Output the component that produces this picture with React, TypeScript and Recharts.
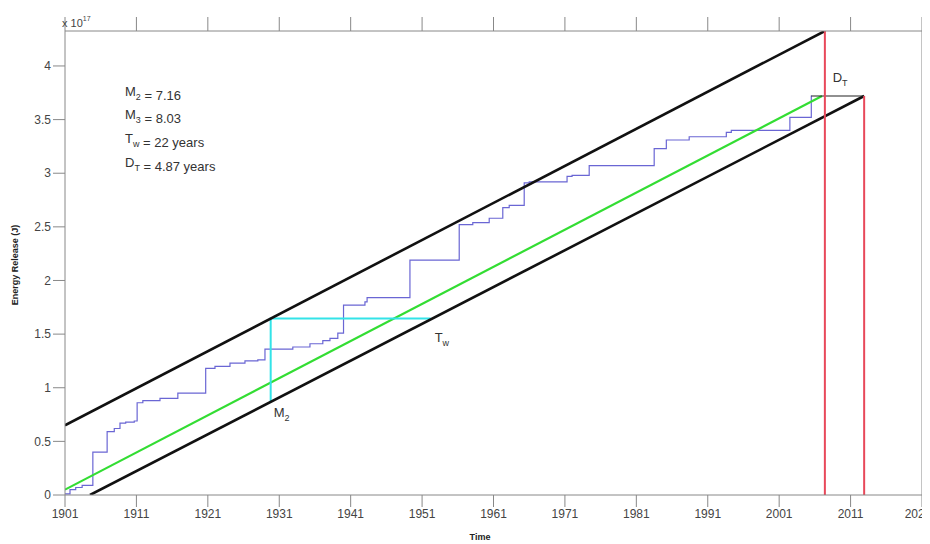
import { ComposedChart, Line, XAxis, YAxis, ReferenceDot } from "recharts";

// blue step curve: cumulative energy release (x 10^17 J)
const stepYears = [
  1901.0, 1901.7, 1902.5, 1903.4, 1904.9, 1906.9, 1907.9, 1908.7, 1909.5, 1910.7,
  1911.1, 1911.9, 1914.3, 1916.8, 1920.7, 1922.0, 1924.1, 1926.2, 1928.0, 1929.0,
  1932.9, 1935.3, 1937.1, 1938.1, 1939.2, 1940.0, 1943.0, 1943.3, 1949.3, 1956.2,
  1958.1, 1960.4, 1962.3, 1963.2, 1965.3, 1966.0, 1971.3, 1972.0, 1974.4, 1983.5,
  1985.2, 1988.4, 1993.6, 1994.3, 2002.5, 2005.5, 2005.6,
];
const stepValues = [
  0.01, 0.05, 0.07, 0.09, 0.40, 0.59, 0.62, 0.67, 0.68, 0.69,
  0.86, 0.88, 0.90, 0.95, 1.18, 1.20, 1.23, 1.25, 1.26, 1.36,
  1.38, 1.41, 1.44, 1.46, 1.51, 1.77, 1.80, 1.84, 2.19, 2.52,
  2.54, 2.58, 2.68, 2.70, 2.91, 2.92, 2.97, 2.98, 3.07, 3.23,
  3.31, 3.34, 3.38, 3.40, 3.52, 3.72, 3.72,
];

const upperYears = [1901, 2007.4];
const upperValues = [0.65, 4.326];
const lowerYears = [1904.5, 2012.9];
const lowerValues = [0, 3.72];
const fitYears = [1901, 2007.0];
const fitValues = [0.05, 3.72];
const cyanYears = [1929.8, 1929.8, 1952.2];
const cyanValues = [0.87, 1.645, 1.645];
const dtYears = [2005.5, 2012.9];
const dtValues = [3.72, 3.72];
const red1Years = [2007.4, 2007.4];
const red1Values = [0, 4.326];
const red2Years = [2012.9, 2012.9];
const red2Values = [0, 3.72];

const xTicks = [1901, 1911, 1921, 1931, 1941, 1951, 1961, 1971, 1981, 1991, 2001, 2011, 2021];
const xTickLabels = ["1901", "1911", "1921", "1931", "1941", "1951", "1961", "1971", "1981", "1991", "2001", "2011", "2020"];
const yTicks = [0, 0.5, 1, 1.5, 2, 2.5, 3, 3.5, 4];

const rows = (xs: number[], ys: number[]) => xs.map((x, i) => ({ x, y: ys[i] }));

const FONT = "'Liberation Sans Narrow', 'Arial Narrow', 'Liberation Sans', Arial, sans-serif";
const AXIS = "#888888";
const TICK = { fill: "#444444", fontSize: 12, fontFamily: FONT };

const Sub = ({ main, sub }: { main: string; sub: string }) => (
  <>
    <tspan>{main}</tspan>
    <tspan dy={4} fontSize={9}>{sub}</tspan>
    <tspan dy={-4}></tspan>
  </>
);

export default function App() {
  const W = 922;
  const H = 536;
  const lineProps = { xAxisId: "b", yAxisId: "l", dataKey: "y", dot: false, isAnimationActive: false, type: "linear" as const };

  return (
    <div style={{ position: "relative", width: W, height: H, fontFamily: FONT }}>
      <ComposedChart width={W} height={H} margin={{ top: 5, right: 0, left: 12, bottom: 9 }}>
        <XAxis xAxisId="b" type="number" dataKey="x" domain={[1901, 2021]} ticks={xTicks}
          tickFormatter={(v: number) => xTickLabels[xTicks.indexOf(v)] ?? String(v)}
          tickSize={12} height={40} stroke={AXIS} tick={TICK} allowDataOverflow />
        <XAxis xAxisId="t" orientation="top" type="number" dataKey="x" domain={[1901, 2021]} ticks={xTicks}
          tickFormatter={() => ""} tickSize={14} height={18} stroke={AXIS} allowDataOverflow />
        <YAxis yAxisId="l" type="number" domain={[0, 4.326]} ticks={yTicks} tickSize={12} width={45}
          stroke={AXIS} tick={TICK} allowDataOverflow />
        <YAxis yAxisId="r" orientation="right" type="number" domain={[0, 4.326]} ticks={yTicks}
          tickFormatter={() => ""} tickSize={10} width={8} stroke={AXIS} allowDataOverflow />

        <Line {...lineProps} data={rows(stepYears, stepValues)} type="stepAfter" stroke="#6a66d4" strokeWidth={1.2} />
        <Line {...lineProps} data={rows(fitYears, fitValues)} stroke="#33dd33" strokeWidth={2.2} />
        <Line {...lineProps} data={rows(cyanYears, cyanValues)} stroke="#33e3e8" strokeWidth={2} />
        <Line {...lineProps} data={rows(upperYears, upperValues)} stroke="#111111" strokeWidth={2.6} />
        <Line {...lineProps} data={rows(lowerYears, lowerValues)} stroke="#111111" strokeWidth={2.6} />
        <Line {...lineProps} data={rows(dtYears, dtValues)} stroke="#222222" strokeWidth={1.2} />
        <Line {...lineProps} data={rows(red1Years, red1Values)} stroke="#e8485a" strokeWidth={2} />
        <Line {...lineProps} data={rows(red2Years, red2Values)} stroke="#e8485a" strokeWidth={2} />

        <ReferenceDot xAxisId="b" yAxisId="l" x={1929.8} y={0.87} r={0} isFront
          shape={(p: any) => (
            <text x={p.cx + 3} y={p.cy + 15} fontSize={13} fill="#333" fontFamily={FONT}>
              <Sub main="M" sub="2" />
            </text>
          )} />
        <ReferenceDot xAxisId="b" yAxisId="l" x={1952.2} y={1.645} r={0} isFront
          shape={(p: any) => (
            <text x={p.cx + 4} y={p.cy + 23} fontSize={13} fill="#333" fontFamily={FONT}>
              <Sub main="T" sub="w" />
            </text>
          )} />
        <ReferenceDot xAxisId="b" yAxisId="l" x={2009.2} y={3.72} r={0} isFront
          shape={(p: any) => (
            <text x={p.cx - 5} y={p.cy - 14} fontSize={13} fill="#333" fontFamily={FONT}>
              <Sub main="D" sub="T" />
            </text>
          )} />
      </ComposedChart>

      <svg width={W} height={H} style={{ position: "absolute", left: 0, top: 0, pointerEvents: "none" }}>
        <text x={54} y={19} fontSize={11} fill="#444" fontFamily={FONT}>
          x 10<tspan dy={-6} fontSize={7}>17</tspan>
        </text>
        <g fontSize={13} fill="#333" fontFamily={FONT}>
          <text x={117} y={88}><Sub main="M" sub="2" /> = 7.16</text>
          <text x={117} y={111}><Sub main="M" sub="3" /> = 8.03</text>
          <text x={117} y={135}><Sub main="T" sub="w" /> = 22 years</text>
          <text x={117} y={159}><Sub main="D" sub="T" /> = 4.87 years</text>
        </g>
        <text x={10} y={257} transform="rotate(-90 10 257)" textAnchor="middle" fontSize={9}
          fontWeight="bold" fill="#222" fontFamily={FONT}>
          Energy Release (J)
        </text>
        <text x={472} y={532} textAnchor="middle" fontSize={9} fontWeight="bold" fill="#222" fontFamily={FONT}>
          Time
        </text>
      </svg>
    </div>
  );
}
